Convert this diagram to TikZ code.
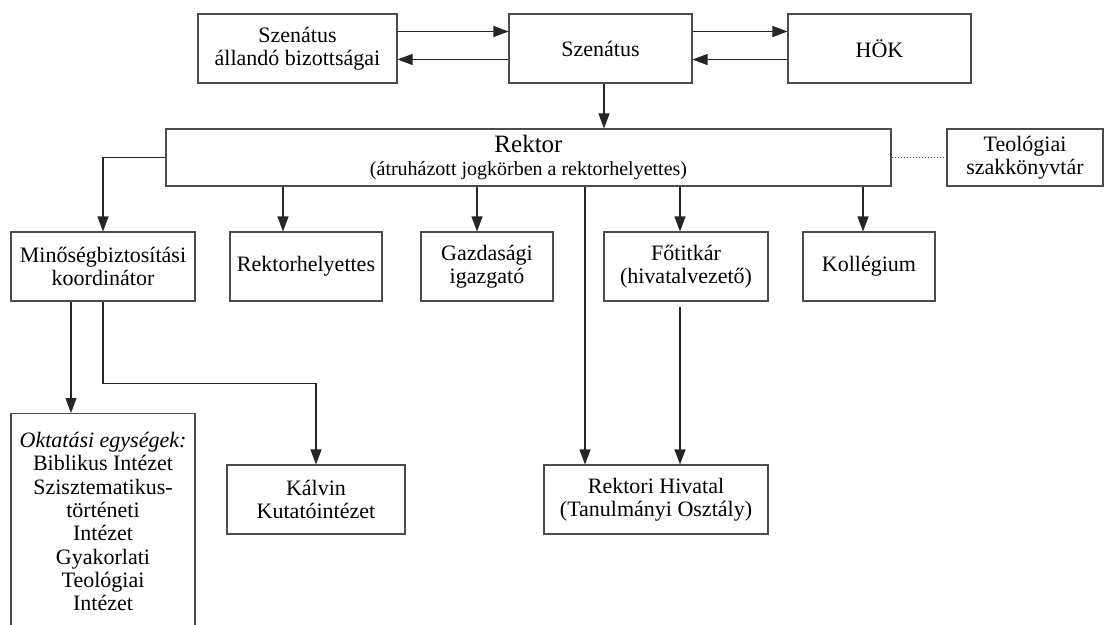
\documentclass[tikz,border=0pt]{standalone}
\usepackage{fontspec}
\setmainfont{Liberation Serif}
\usetikzlibrary{arrows.meta}
\tikzset{
  doboz/.style={draw=black!70, line width=1.1pt, inner sep=0pt, align=center},
  nyil/.style={draw=black!85, line width=1.1pt, -{Triangle[length=15pt,width=11pt]}},
}
\begin{document}
\begin{tikzpicture}[x=1pt, y=-1pt, line join=miter, font=\fontsize{22}{23.3}\selectfont]
  \useasboundingbox (0,0) rectangle (1105,624);
  \clip (0,0) rectangle (1105,624);
  % felső sor
  \node[doboz, minimum width=199pt, minimum height=69pt] (bizott) at (297.5,48.5) {Szenátus\\állandó bizottságai};
  \node[doboz, minimum width=183pt, minimum height=69pt] (szenatus) at (600.5,48.5) {Szenátus};
  \node[doboz, minimum width=183pt, minimum height=69pt] (hok) at (879.5,48.5) {HÖK};
  % rektor
  \node[doboz, minimum width=725pt, minimum height=57pt] (rektor) at (528.5,157.5)
    {{\fontsize{25}{22}\selectfont Rektor}\\{\fontsize{20}{22}\selectfont (átruházott jogkörben a rektorhelyettes)}};
  \node[doboz, minimum width=156pt, minimum height=57pt] (teol) at (1025,157.5) {Teológiai\\szakkönyvtár};
  % középső sor
  \node[doboz, minimum width=184pt, minimum height=69pt] (minoseg) at (103,266.5) {Minőségbiztosítási\\koordinátor};
  \node[doboz, minimum width=152pt, minimum height=69pt] (rhely) at (306,266.5) {Rektorhelyettes};
  \node[doboz, minimum width=132pt, minimum height=69pt] (gazd) at (487,266.5) {Gazdasági\\igazgató};
  \node[doboz, minimum width=164pt, minimum height=69pt] (fotit) at (686,266.5) {Főtitkár\\(hivatalvezető)};
  \node[doboz, minimum width=132pt, minimum height=69pt] (kolleg) at (869,266.5) {Kollégium};
  % alsó sor
  \node[doboz, anchor=north, minimum width=184pt, minimum height=216pt] (okt) at (103,413)
    {\textit{Oktatási egységek:}\\Biblikus Intézet\\Szisztematikus-\\történeti\\Intézet\\Gyakorlati\\Teológiai\\Intézet};
  \node[doboz, minimum width=178pt, minimum height=69pt] (kalvin) at (316,499.5) {Kálvin\\Kutatóintézet};
  \node[doboz, minimum width=224pt, minimum height=69pt] (rhiv) at (656,499.5) {Rektori Hivatal\\(Tanulmányi Osztály)};
  % kapcsolatok
  \draw[nyil] ([yshift=17pt]bizott.east) -- ([yshift=17pt]szenatus.west);
  \draw[nyil] ([yshift=-11pt]szenatus.west) -- ([yshift=-11pt]bizott.east);
  \draw[nyil] ([yshift=17pt]szenatus.east) -- ([yshift=17pt]hok.west);
  \draw[nyil] ([yshift=-11pt]hok.west) -- ([yshift=-11pt]szenatus.east);
  \draw[nyil] ([xshift=3.5pt]szenatus.south) -- ([xshift=3.5pt]szenatus.south |- rektor.north);
  \draw[draw=black!70, line width=1pt, dotted] (rektor.east) -- (teol.west);
  \draw[nyil] (rektor.west) -| (minoseg.north);
  \draw[nyil] ([xshift=-23pt]rhely.north |- rektor.south) -- ([xshift=-23pt]rhely.north);
  \draw[nyil] ([xshift=-10pt]gazd.north |- rektor.south) -- ([xshift=-10pt]gazd.north);
  \draw[nyil] ([xshift=-6pt]fotit.north |- rektor.south) -- ([xshift=-6pt]fotit.north);
  \draw[nyil] ([xshift=-6pt]kolleg.north |- rektor.south) -- ([xshift=-6pt]kolleg.north);
  \draw[nyil] ([xshift=-71pt]rhiv.north |- rektor.south) -- ([xshift=-71pt]rhiv.north);
  \draw[nyil] ([xshift=-6pt,yshift=-5pt]fotit.south) -- ([xshift=-6pt]fotit.south |- rhiv.north);
  \draw[nyil] ([xshift=-32pt]minoseg.south) -- ([xshift=-32pt]okt.north);
  \draw[nyil] (minoseg.south) -- ++(0,82) -| (kalvin.north);
\end{tikzpicture}
\end{document}
